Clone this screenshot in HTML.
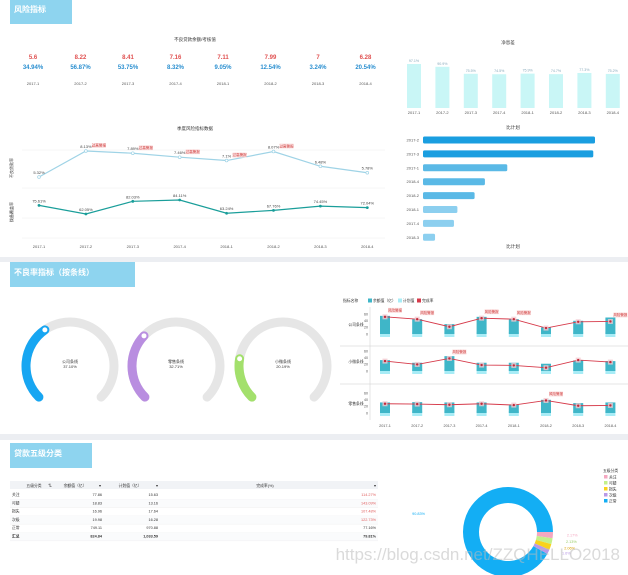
<!DOCTYPE html>
<html><head><meta charset="utf-8">
<style>
html,body{margin:0;padding:0;background:#eceef2;width:628px;height:575px;overflow:hidden}
svg{display:block;font-family:"Liberation Sans","Noto Sans CJK SC",sans-serif}
</style></head>
<body>
<svg id="s" width="628" height="575" viewBox="0 0 628 575">
<rect x="0" y="0" width="628" height="257" fill="#fff"/>
<rect x="0" y="262" width="628" height="172" fill="#fff"/>
<rect x="0" y="440" width="628" height="135" fill="#fff"/>
<rect x="10" y="0" width="62" height="24" fill="#8ed4ef"/>
<text x="14" y="12" font-size="8" font-weight="bold" fill="#fff">风险指标</text>
<rect x="10" y="262" width="125" height="25" fill="#8ed4ef"/>
<text x="14" y="275" font-size="8" font-weight="bold" fill="#fff">不良率指标（按条线）</text>
<rect x="10" y="443" width="82" height="25" fill="#8ed4ef"/>
<text x="14" y="456" font-size="8" font-weight="bold" fill="#fff">贷款五级分类</text>
<text x="195" y="41" font-size="4.5" fill="#333" text-anchor="middle">不良贷款余额/考核值</text>
<text x="195" y="130" font-size="4.5" fill="#333" text-anchor="middle">季度风险指标数据</text>
<text x="508" y="44" font-size="4.5" fill="#333" text-anchor="middle">净息差</text>
<text x="513" y="129" font-size="4.5" fill="#333" text-anchor="middle">比计划</text>
<text x="513" y="248" font-size="4.5" fill="#333" text-anchor="middle">比计划</text>
<g id="g"></g>
<text x="620" y="560" font-size="17" fill="#bbb" fill-opacity="0.55" text-anchor="end">https://blog.csdn.net/ZZQHELLO2018</text>
</svg>
<script>
const quarters=["2017-1","2017-2","2017-3","2017-4","2018-1","2018-2","2018-3","2018-4"];
const kpiValues=["5.6","8.22","8.41","7.16","7.11","7.99","7","6.28"];
const kpiRates=["34.94%","56.87%","53.75%","8.32%","9.05%","12.54%","3.24%","20.54%"];
const nplRate=[5.32,8.13,7.89,7.46,7.10,8.07,6.48,5.78];
const provisionRate=[75.61,62.05,82.03,84.11,63.24,67.76,74.45,72.04];
const marginValues=[97.1,90.9,75.5,74.5,75.9,74.7,77.3,75.2];
const hbarCats=["2017-2","2017-3","2017-1","2018-4","2018-2","2018-1","2017-4","2018-3"];
const hbarValues=[100,99,49,36,30,20,18,7];
const gaugeNames=["公司条线","零售条线","小微条线"];
const gaugeValues=[37.10,32.71,20.19];
const lineNames=["公司条线","小微条线","零售条线"];
const lineBars=[[55,45,30,52,45,20,40,50],[33,25,45,25,25,22,32,30],[32,33,32,32,26,40,30,32]];
const lineRates=[[52,45,22,48,45,18,37,38],[30,20,38,18,17,10,33,27],[28,27,25,28,24,38,22,23]];
const tableNames=["关注","可疑","损失","次级","正常","汇总"];
const tableBalance=["77.86","18.83","16.96","19.98","749.11","824.84"];
const tablePlan=["15.63","13.16","17.64","16.28","970.88","1,033.59"];
const tableRate=["114.27%","143.09%","107.48%","122.73%","77.16%","79.81%"];
const donutNames=["正常","关注","可疑","损失","次级"];
const donutValues=[90.83,2.17,2.13,2.06,1.6];
const donutColors=["#13aef4","#f4a7c0","#c3f08a","#f8d21c","#b99ae6"];

const NS="http://www.w3.org/2000/svg",G=document.getElementById('g');
function el(t,a,txt){const e=document.createElementNS(NS,t);for(const k in a)e.setAttribute(k,a[k]);if(txt!==undefined)e.textContent=txt;G.appendChild(e);return e;}

const kx=i=>33+i*47.5;
quarters.forEach((q,i)=>{
 let e=el('text',{x:kx(i),y:59,'font-size':6,'font-weight':'bold',fill:'#e05050','text-anchor':'middle'},kpiValues[i]);
 
 e=el('text',{x:kx(i),y:69,'font-size':6,'font-weight':'bold',fill:'#2a8fd0','text-anchor':'middle'},kpiRates[i]);
 
 e=el('text',{x:kx(i),y:85,'font-size':4,fill:'#555','text-anchor':'middle'},q);
 
});

const lx=i=>39+i*46.9;
const ly1=v=>177-(v-5.32)*(26/2.81);
const ly2=v=>214-(v-62.05)*(14/22.06);
[150,188,218,238].forEach(y=>{const e=el('line',{x1:22,x2:385,y1:y,y2:y,stroke:'#eee','stroke-width':0.5});});
let e=el('text',{x:0,y:0,'font-size':4,fill:'#333',transform:'translate(13,168) rotate(-90)','text-anchor':'middle'},'不良贷款率');

e=el('text',{x:0,y:0,'font-size':4,fill:'#333',transform:'translate(13,212) rotate(-90)','text-anchor':'middle'},'拨备覆盖率');

e=el('polyline',{points:nplRate.map((v,i)=>lx(i)+','+ly1(v)).join(' '),fill:'none',stroke:'#9fd3e6','stroke-width':1.2});

e=el('polyline',{points:provisionRate.map((v,i)=>lx(i)+','+ly2(v)).join(' '),fill:'none',stroke:'#1a9e9a','stroke-width':1.2});

nplRate.forEach((v,i)=>{
 e=el('circle',{cx:lx(i),cy:ly1(v),r:1.4,fill:'#fff',stroke:'#9fd3e6','stroke-width':0.7});
 
 e=el('text',{x:lx(i),y:ly1(v)-3,'font-size':4,fill:'#444','text-anchor':'middle'},v.toFixed(2).replace(/0$/,'')+'%');
 
 if(v>7){
  e=el('rect',{x:lx(i)+6,y:ly1(v)-8,width:14,height:5,fill:'#fbe3e3'});
  
  e=el('text',{x:lx(i)+13,y:ly1(v)-4.3,'font-size':3.6,fill:'#d04040','text-anchor':'middle'},'过高警报');
  
 }
});
provisionRate.forEach((v,i)=>{
 e=el('circle',{cx:lx(i),cy:ly2(v),r:1.4,fill:'#1a9e9a'});
 
 e=el('text',{x:lx(i),y:ly2(v)-3,'font-size':4,fill:'#444','text-anchor':'middle'},v.toFixed(2)+'%');
 
 e=el('text',{x:lx(i),y:248,'font-size':4,fill:'#555','text-anchor':'middle'},quarters[i]);
 
});

const bx=i=>414+i*28.4, by0=108, bs=v=>v*(44/97.1);
marginValues.forEach((v,i)=>{
 e=el('rect',{x:bx(i)-7,y:by0-bs(v),width:14,height:bs(v),fill:'#c9f6f6'});
 
 e=el('text',{x:bx(i),y:by0-bs(v)-2,'font-size':3.6,fill:'#8ab','text-anchor':'middle'},v.toFixed(1)+'%');
 
 e=el('text',{x:bx(i),y:114,'font-size':4,fill:'#555','text-anchor':'middle'},quarters[i]);
 
});

const hx0=423,hw=v=>v*1.72;
hbarCats.forEach((c,i)=>{
 const y=140+i*13.9;
 e=el('rect',{x:hx0,y:y-3.5,width:hw(hbarValues[i]),height:7,rx:1.5,fill:i<2?'#1a9ee0':(i<5?'#5ab9e6':'#8ccfef')});
 
 e=el('text',{x:419,y:y+1.5,'font-size':4,fill:'#555','text-anchor':'end'},c);
 
});

const gcx=[70,176,283],gcolors=["#17a6f2","#b98ee0","#a3e06c"],gr=44;
function pt(cx,cy,a){const r=a*Math.PI/180;return [cx+gr*Math.sin(r),cy-gr*Math.cos(r)];}
gaugeValues.forEach((v,i)=>{
 const cx=gcx[i],cy=366;
 const s=pt(cx,cy,225),en=pt(cx,cy,135);
 e=el('path',{d:`M${s[0]},${s[1]} A${gr},${gr} 0 1 1 ${en[0]},${en[1]}`,fill:'none',stroke:'#e6e6e6','stroke-width':9,'stroke-linecap':'round'});
 
 const a=225+v/100*270, p=pt(cx,cy,a);
 e=el('path',{d:`M${s[0]},${s[1]} A${gr},${gr} 0 ${v/100*270>180?1:0} 1 ${p[0]},${p[1]}`,fill:'none',stroke:gcolors[i],'stroke-width':9,'stroke-linecap':'round'});
 
 e=el('circle',{cx:p[0],cy:p[1],r:3,fill:'#fff',stroke:gcolors[i],'stroke-width':1});
 
 e=el('text',{x:cx,y:363,'font-size':4,fill:'#333','text-anchor':'middle'},gaugeNames[i]);
 
 e=el('text',{x:cx,y:368,'font-size':4,fill:'#333','text-anchor':'middle'},v.toFixed(2)+'%');
 
});

e=el('text',{x:343,y:302,'font-size':3.8,fill:'#333'},'指标名称');

[["#3fb6c8","余额值（亿）",368],["#a8ecf6","计划值",398],["#d63a4a","完成率",417]].forEach(l=>{
 e=el('rect',{x:l[2],y:298.5,width:4,height:4,fill:l[0]});
 
 e=el('text',{x:l[2]+5,y:302,'font-size':3.8,fill:'#333'},l[1]);
 
});
const mx=i=>385+i*32.2, zeros=[334,371,413], ms=0.33;
[346,384].forEach(y=>{e=el('line',{x1:340,x2:628,y1:y,y2:y,stroke:'#ccc','stroke-width':0.5});});
e=el('line',{x1:370,x2:370,y1:307,y2:420,stroke:'#ccc','stroke-width':0.5});
lineNames.forEach((n,r)=>{
 const z=zeros[r],yy=v=>z-v*ms;
 e=el('text',{x:356,y:z-8,'font-size':3.8,fill:'#333','text-anchor':'middle'},n);
 
 [0,20,40,60].forEach(t=>{e=el('text',{x:368,y:yy(t)+1.3,'font-size':3.6,fill:'#555','text-anchor':'end'},t);});
 lineBars[r].forEach((v,i)=>{
  e=el('rect',{x:mx(i)-5,y:z-2,width:10,height:5,fill:'#a8ecf6'});
  
  e=el('rect',{x:mx(i)-5,y:yy(v),width:10,height:v*ms,fill:'#3fb6c8'});
  
 });
 e=el('polyline',{points:lineRates[r].map((v,i)=>mx(i)+','+yy(v)).join(' '),fill:'none',stroke:'#d63a4a','stroke-width':0.9});
 
 lineRates[r].forEach((v,i)=>{
  e=el('rect',{x:mx(i)-2.5,y:yy(v)-2.5,width:5,height:5,fill:'#f2c9cf',opacity:0.8});
  
  e=el('circle',{cx:mx(i),cy:yy(v),r:1.2,fill:'#c42a3a'});
  
  if(lineBars[r][i]>=45||(r==2&&i==5)){
   e=el('rect',{x:mx(i)+3,y:yy(v)-9,width:14,height:5,fill:'#fbe0e0'});
   
   e=el('text',{x:mx(i)+10,y:yy(v)-5.3,'font-size':3.5,fill:'#d04040','text-anchor':'middle'},'风险警报');
   
  }
 });
});
quarters.forEach((q,i)=>{e=el('text',{x:mx(i),y:427,'font-size':3.8,fill:'#555','text-anchor':'middle'},q);});

e=el('rect',{x:10,y:481,width:368,height:8,fill:'#f1f3f6'});
[["五级分类",34,'middle'],["余额值（亿）",75,'middle'],["计划值（亿）",130,'middle'],["完成率(%)",265,'middle']].forEach(h=>{
 e=el('text',{x:h[1],y:486.8,'font-size':3.8,fill:'#333','text-anchor':h[2]},h[0]);
});
[[50,"⇅"],[100,"▾"],[157,"▾"],[375,"▾"]].forEach(h=>{e=el('text',{x:h[0],y:487,'font-size':3.8,fill:'#333','text-anchor':'middle'},h[1]);});
tableNames.forEach((n,i)=>{
 const y=496+i*8.3,b=i==5;
 if(i%2==1){e=el('rect',{x:10,y:y-5,width:368,height:8.3,fill:'#fafbfc'});}
 e=el('line',{x1:10,x2:378,y1:y+3.3,y2:y+3.3,stroke:'#eee','stroke-width':0.4});
 const fw=b?'bold':'normal';
 e=el('text',{x:12,y:y,'font-size':3.8,'font-weight':fw,fill:'#333'},n);
 e=el('text',{x:102,y:y,'font-size':3.8,'font-weight':fw,fill:'#333','text-anchor':'end'},tableBalance[i]);
 e=el('text',{x:158,y:y,'font-size':3.8,'font-weight':fw,fill:'#333','text-anchor':'end'},tablePlan[i]);
 e=el('text',{x:376,y:y,'font-size':3.8,'font-weight':fw,fill:parseFloat(tableRate[i])>100?'#e06060':'#333','text-anchor':'end'},tableRate[i]);
});

const dcx=508,dcy=532,R=45,r0=29;
let tot=donutValues.reduce((a,b)=>a+b,0);
let a0=90-donutValues[0]/tot*360;
function P(rad,a){const t=a*Math.PI/180;return [dcx+rad*Math.sin(t),dcy-rad*Math.cos(t)];}
donutValues.forEach((v,i)=>{
 const a1=a0+v/tot*360,lg=(a1-a0)>180?1:0;
 const p1=P(R,a0),p2=P(R,a1),p3=P(r0,a1),p4=P(r0,a0);
 e=el('path',{d:`M${p1[0]},${p1[1]}A${R},${R} 0 ${lg} 1 ${p2[0]},${p2[1]}L${p3[0]},${p3[1]}A${r0},${r0} 0 ${lg} 0 ${p4[0]},${p4[1]}Z`,fill:donutColors[i]});
 
 if(i>0){
  const m=P(R+4,(a0+a1)/2);
  e=el('text',{x:m[0]+10,y:m[1]+1,'font-size':3.8,fill:donutColors[i]=="#c3f08a"?'#9c6':(donutColors[i]=="#f8d21c"?'#d9a000':donutColors[i]),'text-anchor':'start'},v+'%');
  
 }
 a0=a1;
});
e=el('text',{x:425,y:515,'font-size':3.8,fill:'#13aef4','text-anchor':'end'},donutValues[0]+'%');

e=el('text',{x:603,y:472,'font-size':3.8,fill:'#333'},'五级分类');

["关注","可疑","损失","次级","正常"].forEach((n,i)=>{
 const c=donutColors[donutNames.indexOf(n)];
 e=el('rect',{x:604,y:475+i*6,width:3.5,height:3.5,fill:c});
 e=el('text',{x:609,y:478.3+i*6,'font-size':3.8,fill:'#333'},n);
});
</script>
</body></html>
